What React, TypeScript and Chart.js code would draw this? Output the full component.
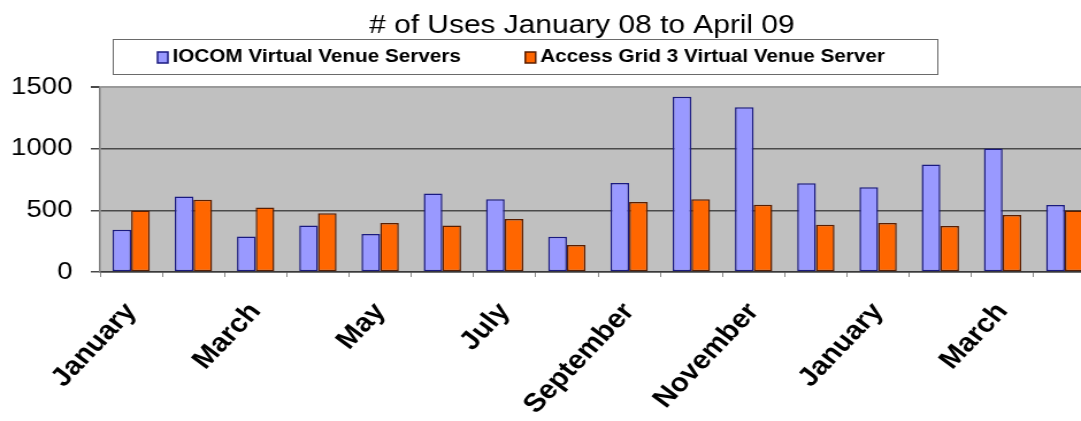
import React, { useEffect, useRef } from 'react';
import { Chart, registerables } from 'chart.js';

Chart.register(...registerables);

// ---- data ----
const months = [
  'January', 'February', 'March', 'April', 'May', 'June', 'July', 'August',
  'September', 'October', 'November', 'December', 'January', 'February', 'March', 'April',
];
const iocomUses = [342, 612, 288, 377, 309, 636, 590, 285, 722, 1421, 1335, 720, 687, 872, 1002, 543];
const ag3Uses = [498, 586, 522, 476, 397, 377, 429, 219, 567, 590, 546, 383, 397, 373, 462, 498];
const seriesNames = ['IOCOM Virtual Venue Servers', 'Access Grid 3 Virtual Venue Server'];
const yTickValues = [0, 500, 1000, 1500];
const titleText = '# of Uses January 08 to April 09';

const FONT = '"Liberation Sans", Arial, Helvetica, sans-serif';
const STRETCH = 1.15;
const CANVAS_W = 953;
const CANVAS_H = 421;

const decorPlugin = {
  id: 'decor',
  beforeDraw(chart: any) {
    const { ctx, chartArea: a } = chart;
    ctx.save();
    ctx.fillStyle = '#ffffff';
    ctx.fillRect(0, 0, chart.width, chart.height);
    ctx.fillStyle = '#c0c0c0';
    ctx.fillRect(a.left, a.top, a.right - a.left, a.bottom - a.top);
    ctx.restore();
  },
  afterDraw(chart: any) {
    const { ctx } = chart;
    ctx.save();
    // title
    ctx.font = `26px ${FONT}`;
    ctx.fillStyle = '#000000';
    ctx.textAlign = 'center';
    ctx.textBaseline = 'alphabetic';
    ctx.fillText(titleText, 506, 33);

    // legend box
    const boxL = 98.5, boxT = 39.5, boxW = 717, boxH = 35;
    ctx.fillStyle = '#ffffff';
    ctx.fillRect(boxL, boxT, boxW, boxH);
    ctx.strokeStyle = '#6a6a6a';
    ctx.lineWidth = 1;
    ctx.strokeRect(boxL, boxT, boxW, boxH);

    ctx.font = `bold 18px ${FONT}`;
    ctx.textAlign = 'left';
    ctx.textBaseline = 'middle';
    const midY = boxT + boxH / 2 + 0.5;
    let x = boxL + 38.5;
    chart.data.datasets.forEach((ds: any) => {
      ctx.fillStyle = ds.backgroundColor;
      ctx.fillRect(x, midY - 5.5, 9, 11);
      ctx.strokeStyle = ds.borderColor;
      ctx.lineWidth = 1.5;
      ctx.strokeRect(x, midY - 5.5, 9, 11);
      ctx.fillStyle = '#000000';
      ctx.fillText(ds.label, x + 13, midY);
      x += 13 + ctx.measureText(ds.label).width + 56;
    });
    ctx.restore();
  },
};

export default function App() {
  const canvasRef = useRef<HTMLCanvasElement | null>(null);

  useEffect(() => {
    const canvas = canvasRef.current;
    if (!canvas) return;
    const chart = new Chart(canvas, {
      type: 'bar',
      data: {
        labels: months,
        datasets: [
          {
            label: seriesNames[0],
            data: iocomUses,
            backgroundColor: '#9999ff',
            borderColor: '#1a1a80',
            borderWidth: 1.5,
            borderSkipped: false,
            categoryPercentage: 0.6,
            barPercentage: 1,
          },
          {
            label: seriesNames[1],
            data: ag3Uses,
            backgroundColor: '#ff6600',
            borderColor: '#5a1e00',
            borderWidth: 1.5,
            borderSkipped: false,
            categoryPercentage: 0.6,
            barPercentage: 1,
          },
        ],
      },
      options: {
        animation: false,
        responsive: false,
        devicePixelRatio: 1,
        layout: { padding: { top: 87, left: 0, right: 0, bottom: 0 } },
        plugins: {
          legend: { display: false },
          title: { display: false },
          tooltip: { enabled: false },
        },
        scales: {
          x: {
            offset: true,
            grid: {
              offset: true,
              drawOnChartArea: false,
              drawTicks: true,
              tickLength: 5,
              tickColor: '#8a8a8a',
              lineWidth: 1,
            },
            border: { display: true, color: '#3a3a3a', width: 1.5 },
            ticks: {
              autoSkip: false,
              minRotation: 50,
              maxRotation: 50,
              padding: 20,
              color: '#000000',
              font: { family: FONT, size: 26, weight: 'bold' },
              callback: (_v: any, i: number) => (i % 2 === 0 ? months[i] : ''),
            },
            afterFit: (s: any) => {
              s.height = 149;
              s.paddingLeft = 0;
              s.paddingRight = 0;
            },
          },
          y: {
            min: 0,
            max: 1500,
            afterBuildTicks: (s: any) => {
              s.ticks = yTickValues.map((v) => ({ value: v }));
            },
            grid: {
              color: (c: any) => (c.tick && c.tick.value === 1500 ? '#9a9a9a' : '#4a4a4a'),
              lineWidth: (c: any) => (c.tick && c.tick.value === 1500 ? 2 : 1.5),
              tickColor: '#4a4a4a',
              tickLength: 8,
              drawTicks: true,
            },
            border: { display: true, color: '#808080', width: 1.5 },
            ticks: {
              padding: 16,
              color: '#000000',
              font: { family: FONT, size: 24 },
              callback: (v: any) => String(v),
            },
            afterFit: (s: any) => {
              s.width = 87;
              s.paddingTop = 0;
              s.paddingBottom = 0;
            },
          },
        },
      },
      plugins: [decorPlugin],
    } as any);
    return () => chart.destroy();
  }, []);

  return (
    <div
      style={{
        position: 'fixed',
        left: 0,
        top: 0,
        width: 1081,
        height: 421,
        overflow: 'hidden',
        background: '#ffffff',
      }}
    >
      <div
        style={{
          width: CANVAS_W,
          height: CANVAS_H,
          transform: `scaleX(${STRETCH})`,
          transformOrigin: '0 0',
        }}
      >
        <canvas
          ref={canvasRef}
          width={CANVAS_W}
          height={CANVAS_H}
          style={{ display: 'block', width: CANVAS_W, height: CANVAS_H }}
        />
      </div>
    </div>
  );
}
